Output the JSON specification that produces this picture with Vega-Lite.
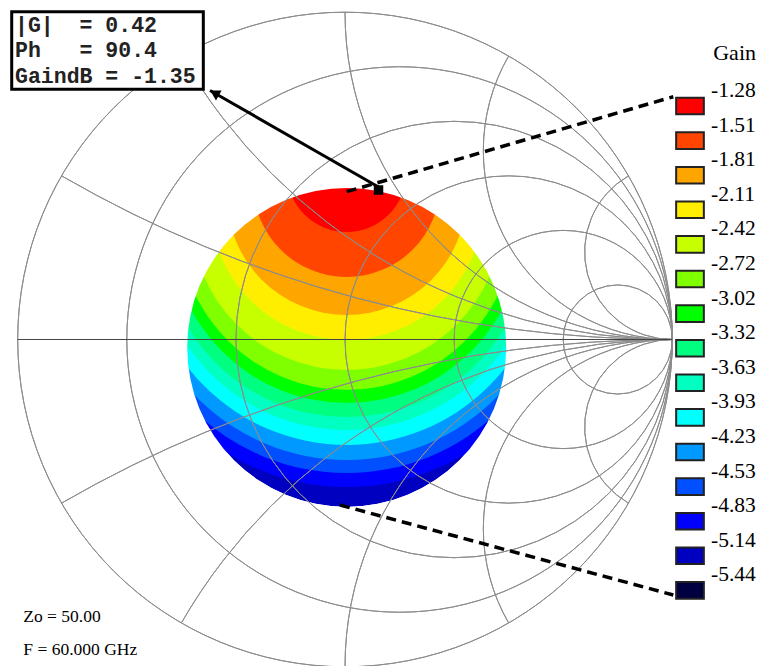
{
  "$schema": "https://vega.github.io/schema/vega-lite/v6.json",
  "width": 764,
  "height": 666,
  "padding": 0,
  "autosize": {"type": "none"},
  "background": "white",
  "config": {"view": {"stroke": null}},
  "datasets": {
    "bands": [
      {"x": 0.0052, "y": -0.0241, "r": 0.4873, "level": "-5.14"},
      {"x": 0.005, "y": 0.2410, "r": 0.6919, "level": "-4.83"},
      {"x": 0.005, "y": 0.2589, "r": 0.6668, "level": "-4.53"},
      {"x": 0.005, "y": 0.2753, "r": 0.6434, "level": "-4.23"},
      {"x": 0.005, "y": 0.2940, "r": 0.6161, "level": "-3.93"},
      {"x": 0.005, "y": 0.3123, "r": 0.5888, "level": "-3.63"},
      {"x": 0.005, "y": 0.3279, "r": 0.5649, "level": "-3.32"},
      {"x": 0.005, "y": 0.3447, "r": 0.5386, "level": "-3.02"},
      {"x": 0.005, "y": 0.3600, "r": 0.5139, "level": "-2.72"},
      {"x": 0.005, "y": 0.3827, "r": 0.4758, "level": "-2.42"},
      {"x": 0.005, "y": 0.4155, "r": 0.4169, "level": "-2.11"},
      {"x": 0.005, "y": 0.4411, "r": 0.3662, "level": "-1.81"},
      {"x": 0.005, "y": 0.4765, "r": 0.2855, "level": "-1.51"},
      {"x": 0.005, "y": 0.5106, "r": 0.1822, "level": "-1.28"}
    ],
    "mask": [{"x": 0.0052, "y": -0.0241, "r": 3, "r2": 0.4873}],
    "grid": [
      {"x": 0, "y": 0, "r": 1, "t1": 0, "t2": 360},
      {"x": 0.16667, "y": 0, "r": 0.83333, "t1": 0, "t2": 360},
      {"x": 0.33333, "y": 0, "r": 0.66667, "t1": 0, "t2": 360},
      {"x": 0.5, "y": 0, "r": 0.5, "t1": 0, "t2": 360},
      {"x": 0.66667, "y": 0, "r": 0.33333, "t1": 0, "t2": 360},
      {"x": 0.83333, "y": 0, "r": 0.16667, "t1": 0, "t2": 360},
      {"x": 1, "y": 3.7321, "r": 3.7321, "t1": 180, "t2": 210},
      {"x": 1, "y": -3.7321, "r": 3.7321, "t1": 330, "t2": 360},
      {"x": 1, "y": 1.7321, "r": 1.7321, "t1": 180, "t2": 240},
      {"x": 1, "y": -1.7321, "r": 1.7321, "t1": 300, "t2": 360},
      {"x": 1, "y": 1, "r": 1, "t1": 180, "t2": 270},
      {"x": 1, "y": -1, "r": 1, "t1": 270, "t2": 360},
      {"x": 1, "y": 0.5774, "r": 0.5774, "t1": 180, "t2": 300},
      {"x": 1, "y": -0.5774, "r": 0.5774, "t1": 240, "t2": 360},
      {"x": 1, "y": 0.2679, "r": 0.2679, "t1": 180, "t2": 330},
      {"x": 1, "y": -0.2679, "r": 0.2679, "t1": 210, "t2": 360}
    ],
    "hline": [{"x": -1, "y": 0, "x2": 1}],
    "dashed": [
      {"x": 0.0052, "y": 0.4516, "x2": 1.0031, "y2": 0.7418},
      {"x": -0.0153, "y": -0.5057, "x2": 1.0031, "y2": -0.7806}
    ],
    "arrow": [{"x": 0.1024, "y": 0.4659, "x2": -0.4125, "y2": 0.7608}],
    "arrowhead": [{"x": -0.3987, "y": 0.7531}],
    "marker": [{"x": 0.1024, "y": 0.4567}],
    "box": [{"x": -1.0183, "y": 1.0015, "x2": -0.4329, "y2": 0.7644}],
    "boxtext": [
      {"x": -1.0082, "y": 0.9410, "t": "|G|\u00a0\u00a0= 0.42"},
      {"x": -1.0082, "y": 0.8631, "t": "Ph\u00a0\u00a0\u00a0= 90.4"},
      {"x": -1.0082, "y": 0.7837, "t": "GaindB = -1.35"}
    ],
    "notes": [
      {"x": -0.9829, "y": -0.8631, "t": "Zo = 50.00"},
      {"x": -0.9829, "y": -0.9640, "t": "F = 60.000 GHz"}
    ]
  },
  "encoding": {
    "x": {"field": "x", "type": "quantitative", "scale": {"domain": [-1.05409, 1.28017], "nice": false, "zero": false}, "axis": null},
    "y": {"field": "y", "type": "quantitative", "scale": {"domain": [-0.99756, 1.03727], "nice": false, "zero": false}, "axis": null}
  },
  "layer": [
    {
      "data": {"name": "bands"},
      "mark": {"type": "arc", "theta": 0, "theta2": 6.2832, "strokeWidth": 0},
      "encoding": {
        "radius": {"field": "r", "type": "quantitative", "stack": null, "scale": {"type": "linear", "domain": [0, 1], "range": [0, 327.3]}},
        "color": {
          "field": "level", "type": "nominal",
          "scale": {
            "domain": ["-1.28", "-1.51", "-1.81", "-2.11", "-2.42", "-2.72", "-3.02", "-3.32", "-3.63", "-3.93", "-4.23", "-4.53", "-4.83", "-5.14", "-5.44"],
            "range": ["#ff0000", "#ff4500", "#ffa500", "#ffee00", "#c8ff00", "#80ff00", "#00ff00", "#00ff80", "#00ffc0", "#00ffff", "#0099ff", "#0050ff", "#0000ff", "#0000c0", "#000040"]
          },
          "legend": {
            "title": "Gain",
            "orient": "none",
            "legendX": 675,
            "legendY": 43,
            "titleFont": "Liberation Serif",
            "titleFontSize": 22,
            "titleFontWeight": "normal",
            "titleColor": "black",
            "titleAnchor": "end",
            "titlePadding": 26,
            "labelFont": "Liberation Serif",
            "labelFontSize": 21.5,
            "labelColor": "black",
            "labelOffset": 6,
            "symbolType": "M -1 -0.6 L 1 -0.6 L 1 0.6 L -1 0.6 Z",
            "symbolSize": 767,
            "symbolStrokeColor": "#222222",
            "symbolStrokeWidth": 2,
            "symbolOpacity": 1,
            "rowPadding": -4.4,
            "encode": {
              "labels": {"update": {"dy": {"value": -15}}},
              "symbols": {"update": {"stroke": {"value": "#222222"}, "strokeWidth": {"value": 2}}}
            }
          }
        }
      }
    },
    {
      "data": {"name": "mask"},
      "mark": {"type": "arc", "theta": 0, "theta2": 6.2832, "fill": "white", "strokeWidth": 0},
      "encoding": {
        "radius": {"field": "r", "type": "quantitative", "stack": null, "scale": {"type": "linear", "domain": [0, 1], "range": [0, 327.3]}},
        "radius2": {"field": "r2"}
      }
    },
    {
      "data": {"name": "grid"},
      "mark": {"type": "arc", "filled": false, "stroke": "#8c8c8c", "strokeWidth": 1},
      "encoding": {
        "radius": {"field": "r", "type": "quantitative", "stack": null, "scale": {"type": "linear", "domain": [0, 1], "range": [0, 327.3]}},
        "radius2": {"field": "r"},
        "theta": {"field": "t1", "type": "quantitative", "stack": null, "scale": {"type": "linear", "domain": [0, 360], "range": [0, 6.283185307]}},
        "theta2": {"field": "t2"}
      }
    },
    {
      "data": {"name": "hline"},
      "mark": {"type": "rule", "color": "#444444", "strokeWidth": 1},
      "encoding": {"x2": {"field": "x2"}}
    },
    {
      "data": {"name": "dashed"},
      "mark": {"type": "rule", "color": "black", "strokeWidth": 3.5, "strokeDash": [10, 6]},
      "encoding": {"x2": {"field": "x2"}, "y2": {"field": "y2"}}
    },
    {
      "data": {"name": "arrow"},
      "mark": {"type": "rule", "color": "black", "strokeWidth": 3},
      "encoding": {"x2": {"field": "x2"}, "y2": {"field": "y2"}}
    },
    {
      "data": {"name": "arrowhead"},
      "mark": {"type": "point", "shape": "triangle-up", "filled": true, "color": "black", "size": 130, "angle": 299.5, "opacity": 1}
    },
    {
      "data": {"name": "marker"},
      "mark": {"type": "point", "shape": "square", "filled": true, "color": "black", "size": 90, "opacity": 1}
    },
    {
      "data": {"name": "box"},
      "mark": {"type": "rect", "fill": "white", "stroke": "black", "strokeWidth": 3},
      "encoding": {"x2": {"field": "x2"}, "y2": {"field": "y2"}}
    },
    {
      "data": {"name": "boxtext"},
      "mark": {"type": "text", "font": "Liberation Mono", "fontWeight": "bold", "fontSize": 21.5, "align": "left", "baseline": "alphabetic", "color": "#222222"},
      "encoding": {"text": {"field": "t"}}
    },
    {
      "data": {"name": "notes"},
      "mark": {"type": "text", "font": "Liberation Serif", "fontSize": 17.5, "align": "left", "baseline": "alphabetic", "color": "black"},
      "encoding": {"text": {"field": "t"}}
    }
  ]
}
